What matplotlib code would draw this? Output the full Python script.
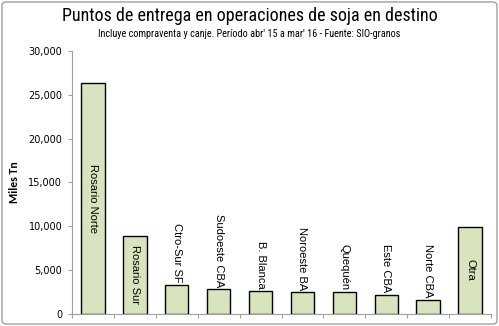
import numpy as np
import matplotlib.pyplot as plt
from matplotlib.patches import FancyBboxPatch
from matplotlib.ticker import FuncFormatter, FixedLocator

# puntos de entrega (miles de toneladas)
puntos = ['Rosario Norte', 'Rosario Sur', 'Ctro-Sur SF', 'Sudoeste CBA', 'B. Blanca',
          'Noroeste BA', 'Quequén', 'Este CBA', 'Norte CBA', 'Otra']
miles_tn = [26400, 8930, 3310, 2850, 2620, 2510, 2470, 2200, 1600, 9960]
etiqueta_dentro = [True, True, False, False, False, False, False, False, False, True]

titulo = 'Puntos de entrega en operaciones de soja en destino'
subtitulo = "Incluye compraventa y canje. Período abr' 15 a mar' 16 - Fuente: SIO-granos"

condensada = ['Roboto Condensed', 'DejaVu Sans']
plt.rcParams['font.family'] = ['Liberation Sans', 'DejaVu Sans']


def main():
    fig = plt.figure(figsize=(4.99, 3.26), dpi=100)
    ax = fig.add_axes([0.1443, 0.0368, 0.8397, 0.8068])

    x = np.arange(len(puntos))
    ax.bar(x, miles_tn, width=0.56, color='#D7E4BD', edgecolor='black', linewidth=1.0, zorder=2)

    for i, (nombre, v) in enumerate(zip(puntos, miles_tn)):
        if etiqueta_dentro[i]:
            ax.text(i, v / 2, nombre, rotation=270, ha='center', va='center', fontsize=8)
        else:
            ax.text(i, v + 250, nombre, rotation=270, ha='center', va='bottom', fontsize=8)

    ax.set_xlim(-0.5, len(puntos) - 0.5)
    ax.set_ylim(0, 30000)
    ax.yaxis.set_major_locator(FixedLocator(range(0, 30001, 5000)))
    ax.yaxis.set_major_formatter(FuncFormatter(lambda v, p: f'{int(v):,}'))
    ax.set_xticks(np.arange(-0.5, len(puntos), 1.0))
    ax.set_xticklabels([])
    ax.tick_params(axis='x', length=3, color='#a0a0a0', direction='out')
    ax.tick_params(axis='y', length=3, color='#a0a0a0', labelsize=7, pad=4)
    for t in ax.get_yticklabels():
        t.set_family('DejaVu Sans')

    for s in ['top', 'right']:
        ax.spines[s].set_visible(False)
    for s in ['left', 'bottom']:
        ax.spines[s].set_color('#a0a0a0')
        ax.spines[s].set_linewidth(0.8)

    ax.set_ylabel('Miles Tn', fontsize=8.5, fontweight='bold', labelpad=6, family=['Carlito', 'DejaVu Sans'])

    fig.text(0.5, 0.951, titulo, ha='center', va='center', fontsize=13, family=condensada)
    fig.text(0.5, 0.896, subtitulo, ha='center', va='center', fontsize=7.3, family=condensada)

    borde = FancyBboxPatch((0.004, 0.006), 0.992, 0.988, boxstyle='round,pad=0,rounding_size=0.01',
                           transform=fig.transFigure, fill=False, edgecolor='#a0a0a0', linewidth=1.0)
    fig.patches.append(borde)

    fig.savefig('out.png', dpi=100)


if __name__ == '__main__':
    main()
